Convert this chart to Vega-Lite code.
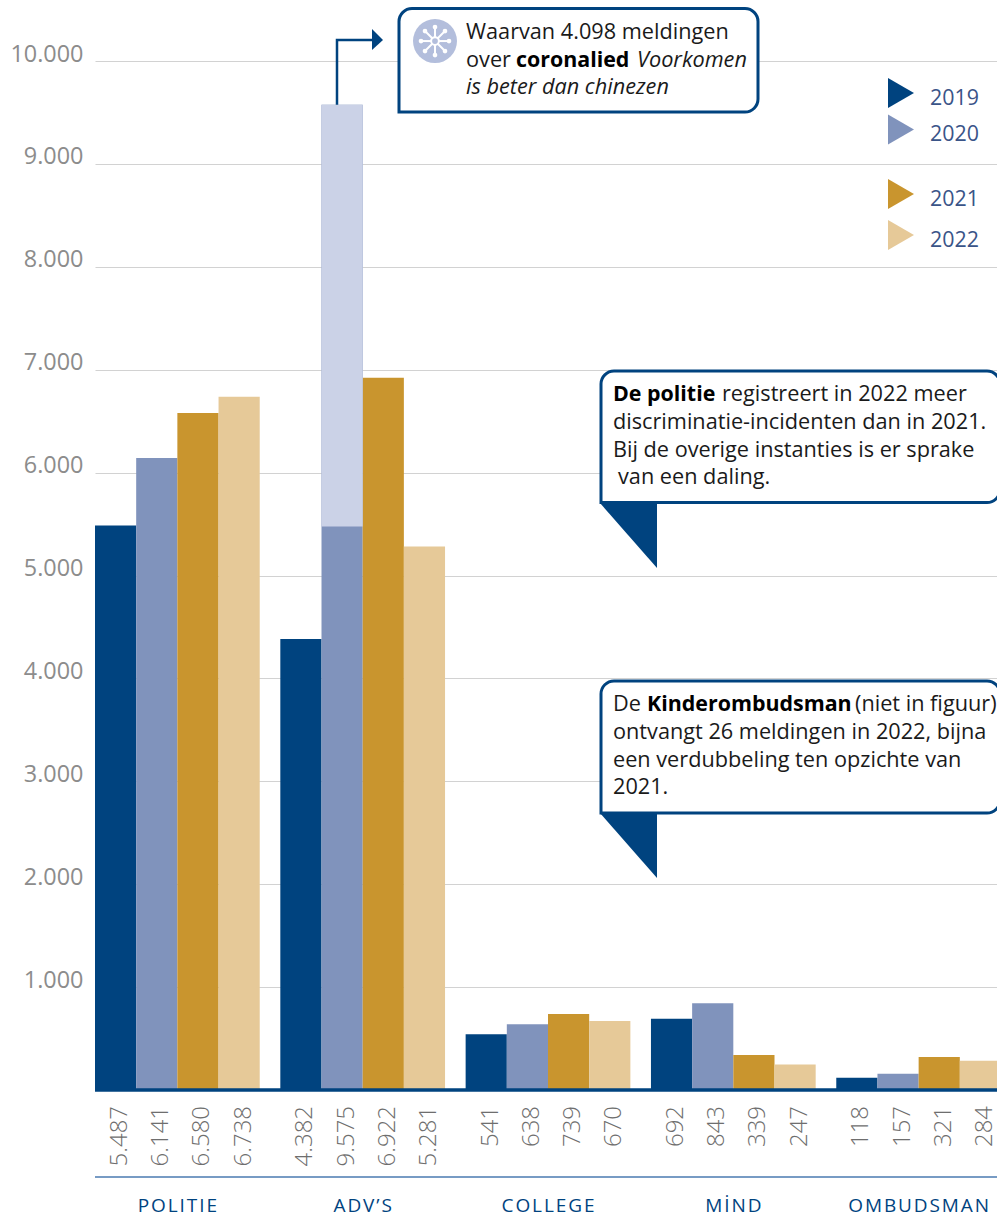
{
"$schema":"https://vega.github.io/schema/vega-lite/v6.json",
"width":902,"height":1090,
"autosize":{"type":"none"},
"padding":{"left":95,"top":0,"right":0,"bottom":133},
"background":"white",
"config":{"view":{"stroke":null},"locale":{"number":{"decimal":",","thousands":".","grouping":[3],"currency":["€",""]}},"text":{"font":"Open Sans"}},
"datasets":{
"bars":[
{"cat":"POLITIE","year":"2019","value":5487},{"cat":"POLITIE","year":"2020","value":6141},{"cat":"POLITIE","year":"2021","value":6580},{"cat":"POLITIE","year":"2022","value":6738},
{"cat":"ADV'S","year":"2019","value":4382},{"cat":"ADV'S","year":"2020","value":9575},{"cat":"ADV'S","year":"2021","value":6922},{"cat":"ADV'S","year":"2022","value":5281},
{"cat":"COLLEGE","year":"2019","value":541},{"cat":"COLLEGE","year":"2020","value":638},{"cat":"COLLEGE","year":"2021","value":739},{"cat":"COLLEGE","year":"2022","value":670},
{"cat":"MIND","year":"2019","value":692},{"cat":"MIND","year":"2020","value":843},{"cat":"MIND","year":"2021","value":339},{"cat":"MIND","year":"2022","value":247},
{"cat":"OMBUDSMAN","year":"2019","value":118},{"cat":"OMBUDSMAN","year":"2020","value":157},{"cat":"OMBUDSMAN","year":"2021","value":321},{"cat":"OMBUDSMAN","year":"2022","value":284}
],
"cats":[
{"cat":"POLITIE","label":"P\u200aO\u200aL\u200aI\u200aT\u200aI\u200aE"},
{"cat":"ADV'S","label":"A\u200aD\u200aV\u200a’\u200aS"},
{"cat":"COLLEGE","label":"C\u200aO\u200aL\u200aL\u200aE\u200aG\u200aE"},
{"cat":"MIND","label":"M\u200aİ\u200aN\u200aD"},
{"cat":"OMBUDSMAN","label":"O\u200aM\u200aB\u200aU\u200aD\u200aS\u200aM\u200aA\u200aN"}
],
"boxes":[
{"x":304,"x2":663,"y":10510,"y2":9504},
{"x":506,"x2":905,"y":6987,"y2":5709},
{"x":506,"x2":905,"y":3975,"y2":2692}
],
"tris":[
{"g":"a","x":277,"y":10311,"y2":10107},{"g":"a","x":288,"y":10204,"y2":10204},
{"g":"b","x":505,"y":5704,"y2":5704},{"g":"b","x":562,"y":5704,"y2":5073},
{"g":"c","x":505,"y":2692,"y2":2692},{"g":"c","x":562,"y":2692,"y2":2060}
],
"arrow":[{"seq":1,"x":242,"y":9575},{"seq":2,"x":242,"y":10204},{"seq":3,"x":277,"y":10204}],
"notes":[
{"style":"regular","x":371,"y":10214,"text":"Waarvan 4.098 meldingen"},
{"style":"regular","x":371,"y":9941,"text":"over"},
{"style":"bold","x":421,"y":9941,"text":"coronalied"},
{"style":"italic","x":542,"y":9941,"text":"Voorkomen"},
{"style":"italic","x":371,"y":9679,"text":"is beter dan chinezen"},
{"style":"bold","x":518,"y":6696,"text":"De politie"},
{"style":"regular","x":627,"y":6696,"text":"registreert in 2022 meer"},
{"style":"regular","x":518,"y":6424,"text":"discriminatie-incidenten dan in 2021."},
{"style":"regular","x":518,"y":6151,"text":"Bij de overige instanties is er sprake"},
{"style":"regular","x":523,"y":5889,"text":"van een daling."},
{"style":"regular","x":518,"y":3683,"text":"De"},
{"style":"bold","x":552,"y":3683,"text":"Kinderombudsman"},
{"style":"regular","x":760,"y":3683,"text":"(niet in figuur)"},
{"style":"regular","x":518,"y":3411,"text":"ontvangt 26 meldingen in 2022, bijna"},
{"style":"regular","x":518,"y":3139,"text":"een verdubbeling ten opzichte van"},
{"style":"regular","x":518,"y":2877,"text":"2021."}
],
"legend":[
{"year":"2019","x":806,"y":9689,"tx":835,"ty":9630},
{"year":"2020","x":806,"y":9334,"tx":835,"ty":9280},
{"year":"2021","x":806,"y":8707,"tx":835,"ty":8648},
{"year":"2022","x":806,"y":8309,"tx":835,"ty":8250}
],
"spokes":[
{"x":340,"y":10194,"x2":340,"y2":10330},{"x":340,"y":10194,"x2":340,"y2":10058},
{"x":340,"y":10194,"x2":326,"y2":10194},{"x":340,"y":10194,"x2":354,"y2":10194},
{"x":340,"y":10194,"x2":350,"y2":10291},{"x":340,"y":10194,"x2":350,"y2":10097},
{"x":340,"y":10194,"x2":330,"y2":10291},{"x":340,"y":10194,"x2":330,"y2":10097}
],
"hub":[{"x":340,"y":10194}],
"lines":[{"level":0,"w":"axis"},{"level":-845,"w":"sep"}]
},
"resolve":{"scale":{"x":"independent"}},
"layer":[
{"layer":[
{"data":{"name":"bars"},"mark":{"type":"bar","stroke":null},
 "encoding":{
  "x":{"field":"cat","type":"nominal","sort":["POLITIE","ADV'S","COLLEGE","MIND","OMBUDSMAN"],"scale":{"range":[0,906],"paddingInner":0.1111,"paddingOuter":0},"axis":null},
  "xOffset":{"field":"year","type":"nominal","scale":{"paddingInner":0,"paddingOuter":0}},
  "y":{"field":"value","type":"quantitative","stack":null,"scale":{"domain":[0,10593],"nice":false,"zero":false},
   "axis":{"title":null,"values":[1000,2000,3000,4000,5000,6000,7000,8000,9000,10000],"format":",d","domain":false,"ticks":false,"labelPadding":12,"labelOffset":-7,"labelFont":"Open Sans","labelFontSize":23.4,"labelColor":"#8c8c8c","gridColor":"#d2d2d2","gridWidth":1.2,"grid":true}},
  "color":{"field":"year","type":"nominal","scale":{"domain":["2019","2020","2021","2022"],"range":["#00437F","#8093BC","#C9952E","#E6C998"]},"legend":null}
 }},
{"data":{"values":[{"cat":"ADV'S","year":"2020","start":5477,"end":9575}]},"mark":{"type":"bar","color":"#CBD2E7"},
 "encoding":{
  "x":{"field":"cat","type":"nominal","sort":["POLITIE","ADV'S","COLLEGE","MIND","OMBUDSMAN"],"axis":null},
  "xOffset":{"field":"year","type":"nominal"},
  "y":{"field":"start","type":"quantitative"},"y2":{"field":"end"}
 }},
{"data":{"name":"bars"},"mark":{"type":"text","angle":270,"align":"right","baseline":"middle","dy":4.5,"font":"Open Sans","fontWeight":300,"fontSize":24,"color":"#6e6e6e"},
 "encoding":{
  "x":{"field":"cat","type":"nominal","sort":["POLITIE","ADV'S","COLLEGE","MIND","OMBUDSMAN"],"axis":null},
  "xOffset":{"field":"year","type":"nominal"},
  "y":{"datum":-155,"type":"quantitative"},
  "text":{"field":"value","type":"quantitative","format":",d"}
 }},
{"data":{"name":"cats"},"mark":{"type":"text","align":"center","baseline":"alphabetic","font":"Open Sans","fontSize":19,"color":"#00437F"},
 "encoding":{
  "x":{"field":"cat","type":"nominal","sort":["POLITIE","ADV'S","COLLEGE","MIND","OMBUDSMAN"],"axis":null},
  "y":{"datum":-1186,"type":"quantitative"},
  "text":{"field":"label"}
 }}
]},
{"layer":[
{"data":{"name":"lines"},"transform":[{"filter":"datum.w=='axis'"}],"mark":{"type":"rule","color":"#00437F","strokeWidth":3.5},"encoding":{"y":{"field":"level","type":"quantitative"}}},
{"data":{"name":"lines"},"transform":[{"filter":"datum.w=='sep'"}],"mark":{"type":"rule","color":"#4A7AB0","strokeWidth":1.5},"encoding":{"y":{"field":"level","type":"quantitative"}}},
{"data":{"name":"boxes"},"mark":{"type":"rect","fill":"white","stroke":"#00437F","strokeWidth":3,"cornerRadiusTopLeft":13,"cornerRadiusTopRight":13,"cornerRadiusBottomRight":13,"cornerRadiusBottomLeft":0},
 "encoding":{"x":{"field":"x","type":"quantitative","scale":{"domain":[0,902],"nice":false,"zero":false},"axis":null},"x2":{"field":"x2"},"y":{"field":"y","type":"quantitative"},"y2":{"field":"y2"}}},
{"data":{"name":"tris"},"mark":{"type":"area","color":"#00437F","orient":"vertical","interpolate":"linear"},
 "encoding":{"x":{"field":"x","type":"quantitative"},"y":{"field":"y","type":"quantitative","stack":null},"y2":{"field":"y2"},"detail":{"field":"g"}}},
{"data":{"name":"arrow"},"mark":{"type":"line","color":"#00437F","strokeWidth":2.5},
 "encoding":{"x":{"field":"x","type":"quantitative"},"y":{"field":"y","type":"quantitative"},"order":{"field":"seq"}}},
{"data":{"name":"hub"},"mark":{"type":"point","filled":true,"color":"#B3BEDC","size":1936,"opacity":1},
 "encoding":{"x":{"field":"x","type":"quantitative"},"y":{"field":"y","type":"quantitative"}}},
{"data":{"name":"spokes"},"mark":{"type":"rule","color":"white","strokeWidth":2},
 "encoding":{"x":{"field":"x","type":"quantitative"},"x2":{"field":"x2"},"y":{"field":"y","type":"quantitative"},"y2":{"field":"y2"}}},
{"data":{"name":"spokes"},"mark":{"type":"point","filled":true,"color":"white","size":22,"opacity":1},
 "encoding":{"x":{"field":"x2","type":"quantitative"},"y":{"field":"y2","type":"quantitative"}}},
{"data":{"name":"hub"},"mark":{"type":"point","fill":"#B3BEDC","stroke":"white","strokeWidth":2,"size":60,"opacity":1},
 "encoding":{"x":{"field":"x","type":"quantitative"},"y":{"field":"y","type":"quantitative"}}},
{"data":{"name":"notes"},"transform":[{"filter":"datum.style=='regular'"}],"mark":{"type":"text","align":"left","baseline":"alphabetic","font":"Open Sans","fontSize":21.7,"color":"#1A1A1A"},
 "encoding":{"x":{"field":"x","type":"quantitative"},"y":{"field":"y","type":"quantitative"},"text":{"field":"text"}}},
{"data":{"name":"notes"},"transform":[{"filter":"datum.style=='bold'"}],"mark":{"type":"text","align":"left","baseline":"alphabetic","font":"Open Sans","fontWeight":"bold","fontSize":21.4,"color":"#000000"},
 "encoding":{"x":{"field":"x","type":"quantitative"},"y":{"field":"y","type":"quantitative"},"text":{"field":"text"}}},
{"data":{"name":"notes"},"transform":[{"filter":"datum.style=='italic'"}],"mark":{"type":"text","align":"left","baseline":"alphabetic","font":"Open Sans","fontStyle":"italic","fontSize":21.7,"color":"#1A1A1A"},
 "encoding":{"x":{"field":"x","type":"quantitative"},"y":{"field":"y","type":"quantitative"},"text":{"field":"text"}}},
{"data":{"name":"legend"},"mark":{"type":"point","shape":"triangle-right","filled":true,"size":900,"opacity":1},
 "encoding":{"x":{"field":"x","type":"quantitative"},"y":{"field":"y","type":"quantitative"},"color":{"field":"year","type":"nominal","legend":null}}},
{"data":{"name":"legend"},"mark":{"type":"text","align":"left","baseline":"middle","font":"Open Sans","fontSize":21.4,"color":"#3A5488"},
 "encoding":{"x":{"field":"tx","type":"quantitative"},"y":{"field":"ty","type":"quantitative"},"text":{"field":"year"}}}
]}
]
}
